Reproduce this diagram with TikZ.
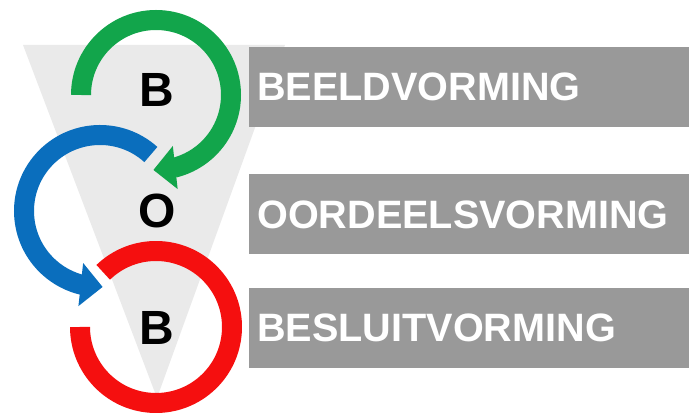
\documentclass[tikz,border=0pt]{standalone}
\usepackage{fontspec}
\setmainfont{Liberation Sans}
\usetikzlibrary{
    positioning,      % For stacking the bars below each other
    arrows.meta,      % For the triangle tips on the rings
    bending           % So the tips follow the curve of the arcs
}

\definecolor{ringgreen}{HTML}{12A54B}
\definecolor{ringblue}{HTML}{0A6EBD}
\definecolor{ringred}{HTML}{F50F0F}
\definecolor{bargrey}{HTML}{999999}
\definecolor{funnelgrey}{HTML}{EAEAEA}

\begin{document}
\begin{tikzpicture}[
    x=1pt, y=1pt,
    % Global style settings
    node distance=47pt and 3em,
    ring_style/.style={ % Thick open circle around a letter
        line width=20pt
    },
    ring_tip/.style={
        -{Triangle[width=42pt, length=22pt]}
    },
    bar_style/.style={ % Grey band with the phase name
        fill=bargrey,
        text=white,
        font=\bfseries\fontsize{39.6}{40}\selectfont,
        minimum height=80pt,
        text width=424pt,
        inner xsep=8pt, inner ysep=0pt,
        align=left
    },
    letter_style/.style={ % Big black initials in the funnel
        font=\bfseries\fontsize{48}{48}\selectfont,
        inner sep=0pt
    }
]
    \useasboundingbox (0,0) rectangle (689,414);

    % 1. The funnel behind the letters.
    \fill[funnelgrey] (23,369) -- (285,369) -- (157,16) -- cycle;

    % 2. The three bands, one below the other.
    \node[bar_style, anchor=west] (beeld) at (249,327) {BEELDVORMING};
    \node[bar_style, below=47pt of beeld] (oordeel) {OORDEELSVORMING};
    \node[bar_style, below=33pt of oordeel] (besluit) {BESLUITVORMING};

    % 3. The initials in the funnel.
    \node[letter_style] (beeld_b) at (157,324) {B};
    \node[letter_style] (oordeel_o) at (157,203) {O};
    \node[letter_style] (besluit_b) at (157,86) {B};

    % 4. Centres of the rings.
    \coordinate (green_c) at (156,319);
    \coordinate (blue_c) at (100,203);
    \coordinate (red_c) at (156,87);

    % Green ring: round the first B, ending on the O
    \draw[ring_style, ringgreen, ring_tip] (green_c) ++(180:75) arc[start angle=180, end angle=-92, radius=75];

    % Blue ring: round the O, ending on the last B
    \draw[ring_style, ringblue, ring_tip] (blue_c) ++(48:76) arc[start angle=48, end angle=272, radius=76];

    % Red ring: closes round the last B, no tip
    \draw[ring_style, ringred] (red_c) ++(134:76) arc[start angle=134, end angle=-180, radius=76];

\end{tikzpicture}
\end{document}
